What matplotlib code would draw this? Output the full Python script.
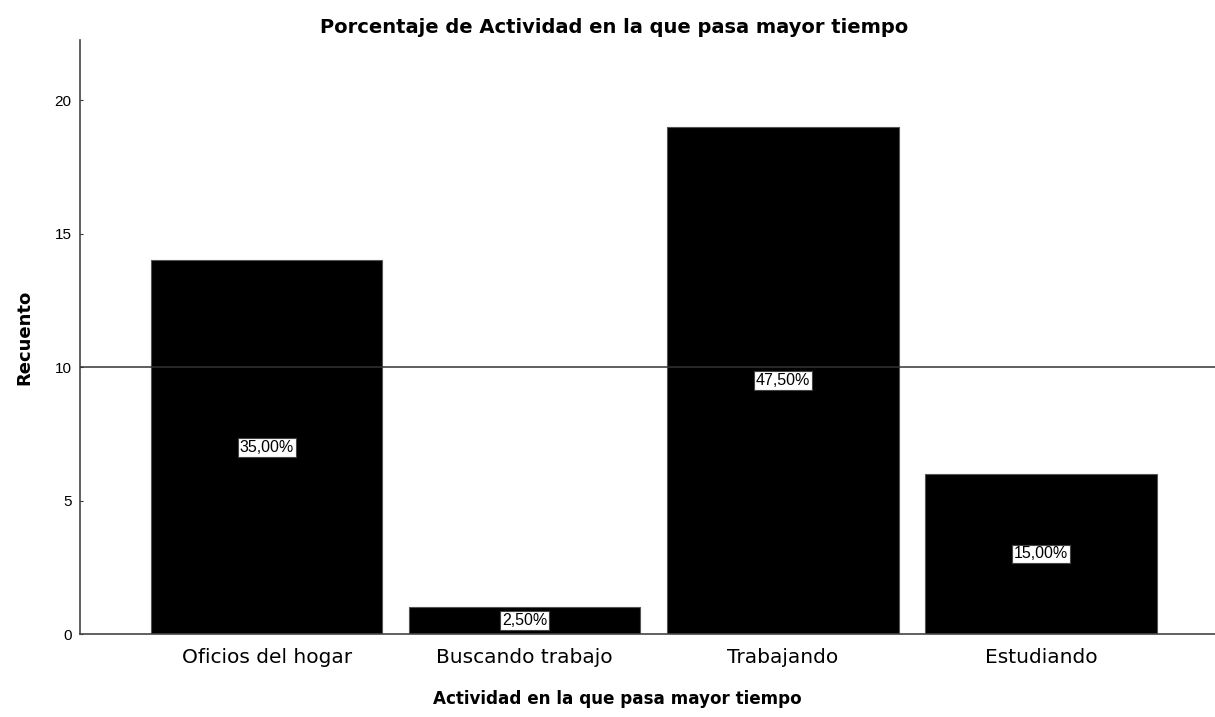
import matplotlib
matplotlib.use("Agg")
import matplotlib.pyplot as plt

# datos
categorias = ["Oficios del hogar", "Buscando trabajo", "Trabajando", "Estudiando"]
recuento = [14, 1, 19, 6]
porcentajes = ["35,00%", "2,50%", "47,50%", "15,00%"]
linea_ref = 10

plt.rcParams['font.family'] = ['Liberation Sans', 'DejaVu Sans']

fig = plt.figure(figsize=(12.15, 7.17), dpi=100)
ax = fig.add_axes([80 / 1215, 83 / 717, 1 - 80 / 1215, 594 / 717])

x_pos = list(range(len(categorias)))
ax.bar(x_pos, recuento, width=0.896, color='black', edgecolor='#555555', linewidth=0.8, zorder=2)

# linea de referencia
ax.axhline(linea_ref, color='#333333', linewidth=1.1, zorder=3)

# etiquetas de porcentaje dentro de las barras
for i, v in enumerate(recuento):
    ax.text(i, v / 2, porcentajes[i], ha='center', va='center', fontsize=11.5,
            color='black', zorder=4,
            bbox=dict(boxstyle='square,pad=0.12', facecolor='white', edgecolor='#444444', linewidth=0.8))

ax.set_xlim(-0.723, 3.674)
ax.set_ylim(0, 22.26)
ax.set_yticks([0, 5, 10, 15, 20])
ax.set_xticks(x_pos)
ax.set_xticklabels(categorias, fontsize=14.5, family='DejaVu Sans')
ax.tick_params(axis='x', length=0, pad=10)
ax.tick_params(axis='y', length=2, direction='in', labelsize=11, color='#333333', pad=6)

for s in ['top', 'right']:
    ax.spines[s].set_visible(False)
for s in ['left', 'bottom']:
    ax.spines[s].set_color('#444444')
    ax.spines[s].set_linewidth(1.2)

# titulos centrados en la figura (como SPSS), no en el eje
ax.set_xlabel("Actividad en la que pasa mayor tiempo", fontsize=12.1, fontweight='bold',
              family='DejaVu Sans', labelpad=14)
ax.xaxis.set_label_coords(0.473, -0.095)
ax.set_ylabel("Recuento", fontsize=13, fontweight='bold', family='DejaVu Sans', labelpad=15)
ax.set_title("Porcentaje de Actividad en la que pasa mayor tiempo", fontsize=14.0, fontweight='bold',
             family='DejaVu Sans', pad=5, x=0.471)

fig.savefig("out.png", dpi=100)
